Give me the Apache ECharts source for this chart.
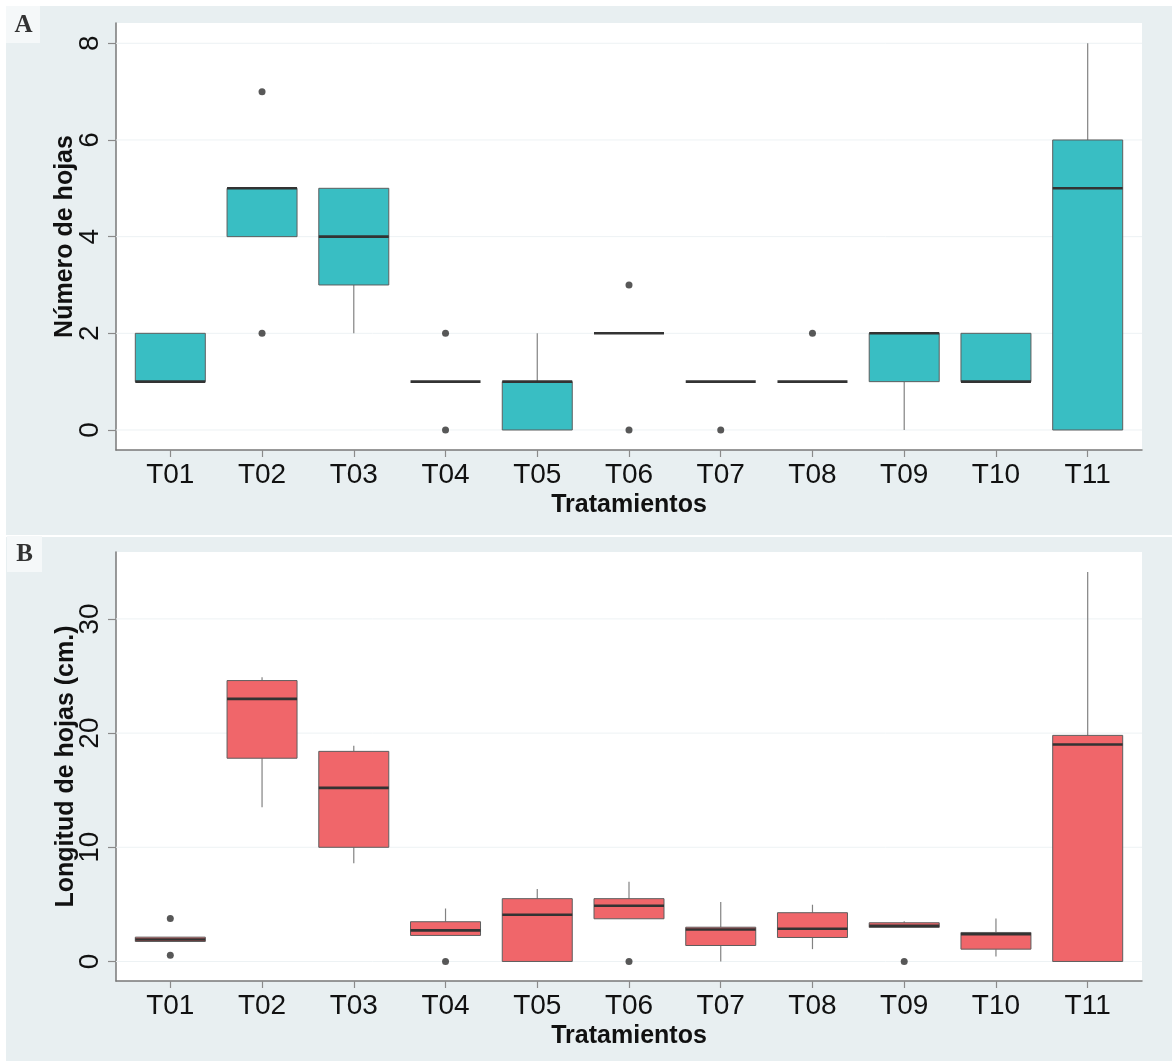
<!DOCTYPE html>
<html>
<head>
<meta charset="utf-8">
<title>Número y longitud de hojas por tratamiento</title>
<script src="https://cdn.jsdelivr.net/npm/echarts@6/dist/echarts.min.js"></script>
<style>
  html, body { margin: 0; padding: 0; background: #ffffff; }
  #wrap { position: relative; width: 1172px; height: 1061px; overflow: hidden; }
  .panel { position: absolute; left: 6px; width: 1166px; background: #e8eff1; }
  .tag { position: absolute; background: #f5f8f9; }
  #chart { position: absolute; left: 0; top: 0; width: 1172px; height: 1061px; }
</style>
</head>
<body>
<div id="wrap">
  <div class="panel" style="top:6px;height:529px"></div>
  <div class="panel" style="top:537px;height:524px"></div>
  <div class="tag" style="left:6px;top:6px;width:34px;height:37px"></div>
  <div class="tag" style="left:7px;top:536px;width:35px;height:36px"></div>
  <div id="chart"></div>
</div>
<script>
// Treatments on the horizontal axis
const treatments = ['T01', 'T02', 'T03', 'T04', 'T05', 'T06', 'T07', 'T08', 'T09', 'T10', 'T11'];

// Panel A – number of leaves: whisker ends, quartiles and medians
const leafCountLow    = [1, 4, 2, 1, 0, 2, 1, 1, 0, 1, 0];
const leafCountQ1     = [1, 4, 3, 1, 0, 2, 1, 1, 1, 1, 0];
const leafCountMedian = [1, 5, 4, 1, 1, 2, 1, 1, 2, 1, 5];
const leafCountQ3     = [2, 5, 5, 1, 1, 2, 1, 1, 2, 2, 6];
const leafCountHigh   = [2, 5, 5, 1, 2, 2, 1, 1, 2, 2, 8];
const leafCountOutliers = [['T02', 7], ['T02', 2], ['T04', 2], ['T04', 0], ['T06', 3], ['T06', 0], ['T07', 0], ['T08', 2]];
const leafCountTicks = [0, 2, 4, 6, 8];

// Panel B – leaf length (cm)
const leafLengthLow    = [1.75, 13.5, 8.6, 2.28, 0, 3.74, 0, 1.08, 2.98, 0.44, 0];
const leafLengthQ1     = [1.75, 17.8, 10.0, 2.28, 0, 3.74, 1.4, 2.1, 2.98, 1.08, 0];
const leafLengthMedian = [1.93, 23.0, 15.2, 2.72, 4.09, 4.88, 2.8, 2.87, 3.13, 2.39, 19.0];
const leafLengthQ3     = [2.13, 24.6, 18.4, 3.48, 5.5, 5.5, 3.0, 4.27, 3.39, 2.54, 19.8];
const leafLengthHigh   = [2.13, 24.9, 18.9, 4.64, 6.34, 6.98, 5.2, 4.97, 3.53, 3.77, 34.1];
const leafLengthOutliers = [['T01', 3.77], ['T01', 0.55], ['T04', 0], ['T06', 0], ['T09', 0]];
const leafLengthTicks = [0, 10, 20, 30];

const BOX_WIDTH = 0.763;           // in category units
const positions = treatments.map((_, i) => i + 1);

function boxRows(low, q1, med, q3, high) {
  return treatments.map((_, i) => [i + 1, low[i], q1[i], med[i], q3[i], high[i]]);
}
function outlierRows(list) {
  return list.map(([t, v]) => [treatments.indexOf(t) + 1, v]);
}

function boxRenderer(fill) {
  return function (params, api) {
    const x = api.value(0);
    const lo = api.value(1), q1 = api.value(2), med = api.value(3), q3 = api.value(4), hi = api.value(5);
    const half = api.size([BOX_WIDTH, 0])[0] / 2;
    const cx = api.coord([x, 0])[0];
    const y = v => api.coord([x, v])[1];
    const children = [];
    const whisker = { stroke: '#828282', lineWidth: 1.2 };
    if (hi > q3) children.push({ type: 'line', shape: { x1: cx, y1: y(q3), x2: cx, y2: y(hi) }, style: whisker });
    if (lo < q1) children.push({ type: 'line', shape: { x1: cx, y1: y(q1), x2: cx, y2: y(lo) }, style: whisker });
    if (q3 > q1) {
      children.push({
        type: 'rect',
        shape: { x: cx - half, y: y(q3), width: half * 2, height: y(q1) - y(q3) },
        style: { fill: fill, stroke: '#5e5e5e', lineWidth: 1 }
      });
    }
    children.push({
      type: 'line',
      shape: { x1: cx - half, y1: y(med), x2: cx + half, y2: y(med) },
      style: { stroke: '#333333', lineWidth: 2.6 }
    });
    return { type: 'group', children: children };
  };
}

// Horizontal reference lines at the labelled ticks, spanning the plot area
function gridLineRenderer(params, api) {
  const cs = params.coordSys;
  const yy = api.coord([1, api.value(1)])[1];
  return {
    type: 'line',
    shape: { x1: cs.x, y1: yy, x2: cs.x + cs.width, y2: yy },
    style: { stroke: '#edf2f4', lineWidth: 1 }
  };
}

const tickText = { color: '#111', fontFamily: 'Liberation Sans, Arial, sans-serif', fontSize: 28 };
const nameText = { color: '#111', fontFamily: 'Liberation Sans, Arial, sans-serif', fontSize: 25, fontWeight: 'bold' };
const axisLine = { show: true, onZero: false, lineStyle: { color: '#787878', width: 1.5 } };
const tickStyle = { color: '#8a8a8a', width: 1.2 };

function xAxisFor(gridIndex) {
  return {
    type: 'value', gridIndex: gridIndex, min: 0.408, max: 11.592,
    name: 'Tratamientos', nameLocation: 'middle', nameGap: 43, nameMoveOverlap: false, nameTextStyle: nameText,
    axisLine: axisLine,
    axisTick: { show: true, length: 7, customValues: positions, lineStyle: tickStyle },
    axisLabel: Object.assign({ customValues: positions, margin: 11, formatter: v => treatments[Math.round(v) - 1] || '' }, tickText),
    splitLine: { show: false }
  };
}
function yAxisFor(gridIndex, name, min, max, ticks, gap) {
  return {
    type: 'value', gridIndex: gridIndex, min: min, max: max,
    name: name, nameLocation: 'middle', nameRotate: 90, nameGap: gap, nameMoveOverlap: false, nameTextStyle: nameText,
    axisLine: axisLine,
    axisTick: { show: true, length: 8, customValues: ticks, lineStyle: tickStyle },
    axisLabel: Object.assign({ customValues: ticks, rotate: 90, margin: 12 }, tickText),
    splitLine: { show: false }
  };
}
function gridLines(idx, ticks) {
  return {
    type: 'custom', xAxisIndex: idx, yAxisIndex: idx, z: 1, silent: true,
    renderItem: gridLineRenderer,
    encode: { x: 0, y: 1 },
    data: ticks.map(t => [1, t])
  };
}

const chart = echarts.init(document.getElementById('chart'), null, { renderer: 'canvas' });
chart.setOption({
  backgroundColor: 'transparent',
  animation: false,
  graphic: [
    { type: 'text', x: 23.5, y: 25.5, style: { text: 'A', fill: '#333', font: 'bold 25px "Liberation Serif", "Times New Roman", serif', textAlign: 'center', textVerticalAlign: 'middle' } },
    { type: 'text', x: 24.5, y: 555, style: { text: 'B', fill: '#333', font: 'bold 25px "Liberation Serif", "Times New Roman", serif', textAlign: 'center', textVerticalAlign: 'middle' } }
  ],
  grid: [
    { left: 116, top: 23, width: 1026, height: 427, show: true, backgroundColor: '#ffffff', borderWidth: 0 },
    { left: 116, top: 552, width: 1026, height: 429, show: true, backgroundColor: '#ffffff', borderWidth: 0 }
  ],
  xAxis: [xAxisFor(0), xAxisFor(1)],
  yAxis: [
    yAxisFor(0, 'Número de hojas', -0.414, 8.42, leafCountTicks, 38),
    yAxisFor(1, 'Longitud de hojas (cm.)', -1.71, 35.86, leafLengthTicks, 37)
  ],
  series: [
    gridLines(0, leafCountTicks),
    gridLines(1, leafLengthTicks),
    {
      type: 'custom', xAxisIndex: 0, yAxisIndex: 0, z: 3,
      renderItem: boxRenderer('#39bec3'),
      encode: { x: 0, y: [1, 2, 3, 4, 5] },
      data: boxRows(leafCountLow, leafCountQ1, leafCountMedian, leafCountQ3, leafCountHigh)
    },
    {
      type: 'custom', xAxisIndex: 1, yAxisIndex: 1, z: 3,
      renderItem: boxRenderer('#f0666a'),
      encode: { x: 0, y: [1, 2, 3, 4, 5] },
      data: boxRows(leafLengthLow, leafLengthQ1, leafLengthMedian, leafLengthQ3, leafLengthHigh)
    },
    {
      type: 'scatter', xAxisIndex: 0, yAxisIndex: 0, z: 4, symbol: 'circle', symbolSize: 7,
      itemStyle: { color: '#2e2e2e' }, data: outlierRows(leafCountOutliers)
    },
    {
      type: 'scatter', xAxisIndex: 1, yAxisIndex: 1, z: 4, symbol: 'circle', symbolSize: 7,
      itemStyle: { color: '#2e2e2e' }, data: outlierRows(leafLengthOutliers)
    }
  ]
});
</script>
</body>
</html>
